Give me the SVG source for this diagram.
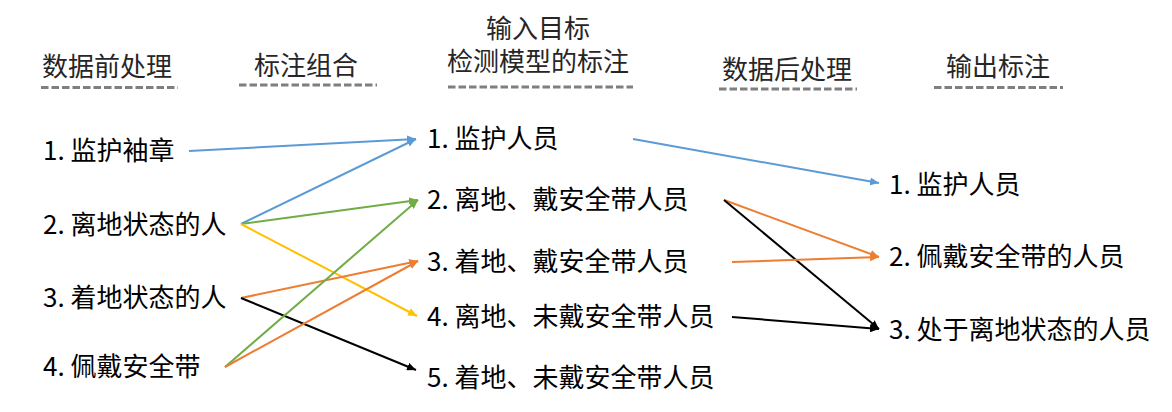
<svg xmlns="http://www.w3.org/2000/svg" width="1172" height="412" viewBox="0 0 1172 412">
  <style>
    text { font-family: "Microsoft YaHei", "Noto Sans CJK SC", sans-serif; font-size: 26px; fill: #000; }
    .hdr { fill: #262626; }
    .dash { stroke: #7f7f7f; stroke-width: 3; stroke-dasharray: 7.5 3; fill: none; }
    .c { fill: none; stroke-width: 2; }
    .blue { stroke: #5b9bd5; }
    .green { stroke: #70ad47; }
    .yellow { stroke: #ffc000; }
    .orange { stroke: #ed7d31; }
    .black { stroke: #000; }
  </style>
  <defs>
    <marker id="mBlue" viewBox="0 0 9 8" refX="9" refY="4" markerWidth="4.5" markerHeight="4" orient="auto"><path d="M0,0 L9,4 L0,8 z" fill="#5b9bd5"/></marker>
    <marker id="mGreen" viewBox="0 0 9 8" refX="9" refY="4" markerWidth="4.5" markerHeight="4" orient="auto"><path d="M0,0 L9,4 L0,8 z" fill="#70ad47"/></marker>
    <marker id="mYellow" viewBox="0 0 9 8" refX="9" refY="4" markerWidth="4.5" markerHeight="4" orient="auto"><path d="M0,0 L9,4 L0,8 z" fill="#ffc000"/></marker>
    <marker id="mOrange" viewBox="0 0 9 8" refX="9" refY="4" markerWidth="4.5" markerHeight="4" orient="auto"><path d="M0,0 L9,4 L0,8 z" fill="#ed7d31"/></marker>
    <marker id="mBlack" viewBox="0 0 9 8" refX="9" refY="4" markerWidth="4.5" markerHeight="4" orient="auto"><path d="M0,0 L9,4 L0,8 z" fill="#000"/></marker>
  </defs>

  <!-- Column headers -->
  <g id="hdr-pre">
    <text class="hdr" x="42" y="76">数据前处理</text>
    <line class="dash" x1="41" y1="87.5" x2="178" y2="87.5"/>
  </g>
  <g id="hdr-combine">
    <text class="hdr" x="254" y="75">标注组合</text>
    <line class="dash" x1="239" y1="85" x2="377" y2="85"/>
  </g>
  <g id="hdr-input">
    <text class="hdr"><tspan x="486" y="38">输入目标</tspan><tspan x="447" y="71">检测模型的标注</tspan></text>
    <line class="dash" x1="448" y1="87" x2="633" y2="87"/>
  </g>
  <g id="hdr-post">
    <text class="hdr" x="722" y="79">数据后处理</text>
    <line class="dash" x1="719" y1="89" x2="857" y2="89"/>
  </g>
  <g id="hdr-output">
    <text class="hdr" x="946" y="76">输出标注</text>
    <line class="dash" x1="934" y1="87.5" x2="1063" y2="87.5"/>
  </g>

  <!-- Left column -->
  <g id="l1"><text x="43" y="160">1. 监护袖章</text></g>
  <g id="l2"><text x="43" y="234">2. 离地状态的人</text></g>
  <g id="l3"><text x="43" y="307">3. 着地状态的人</text></g>
  <g id="l4"><text x="43" y="376">4. 佩戴安全带</text></g>

  <!-- Middle column -->
  <g id="m1"><text x="427" y="148">1. 监护人员</text></g>
  <g id="m2"><text x="427" y="209">2. 离地、戴安全带人员</text></g>
  <g id="m3"><text x="427" y="271">3. 着地、戴安全带人员</text></g>
  <g id="m4"><text x="427" y="326">4. 离地、未戴安全带人员</text></g>
  <g id="m5"><text x="427" y="387">5. 着地、未戴安全带人员</text></g>

  <!-- Right column -->
  <g id="r1"><text x="889" y="194">1. 监护人员</text></g>
  <g id="r2"><text x="889" y="266">2. 佩戴安全带的人员</text></g>
  <g id="r3"><text x="889" y="339">3. 处于离地状态的人员</text></g>

  <!-- Connectors -->
  <g id="connectors">
    <line class="c blue" x1="189" y1="151" x2="416" y2="139" marker-end="url(#mBlue)"/>
    <line class="c blue" x1="241" y1="224" x2="416" y2="139" marker-end="url(#mBlue)"/>
    <line class="c green" x1="241" y1="224" x2="418" y2="200" marker-end="url(#mGreen)"/>
    <line class="c yellow" x1="241" y1="224" x2="417" y2="316" marker-end="url(#mYellow)"/>
    <line class="c orange" x1="241" y1="298" x2="418" y2="261" marker-end="url(#mOrange)"/>
    <line class="c black" x1="241" y1="298" x2="416" y2="370" marker-end="url(#mBlack)"/>
    <line class="c green" x1="225" y1="367" x2="418" y2="200" marker-end="url(#mGreen)"/>
    <line class="c orange" x1="225" y1="367" x2="418" y2="261" marker-end="url(#mOrange)"/>

    <line class="c blue" x1="633" y1="139" x2="879" y2="183" marker-end="url(#mBlue)"/>
    <line class="c orange" x1="724" y1="200" x2="879" y2="257" marker-end="url(#mOrange)"/>
    <line class="c black" x1="724" y1="200" x2="879" y2="329" marker-end="url(#mBlack)"/>
    <line class="c orange" x1="732" y1="262" x2="879" y2="257" marker-end="url(#mOrange)"/>
    <line class="c black" x1="732" y1="317" x2="879" y2="329" marker-end="url(#mBlack)"/>
  </g>
</svg>
